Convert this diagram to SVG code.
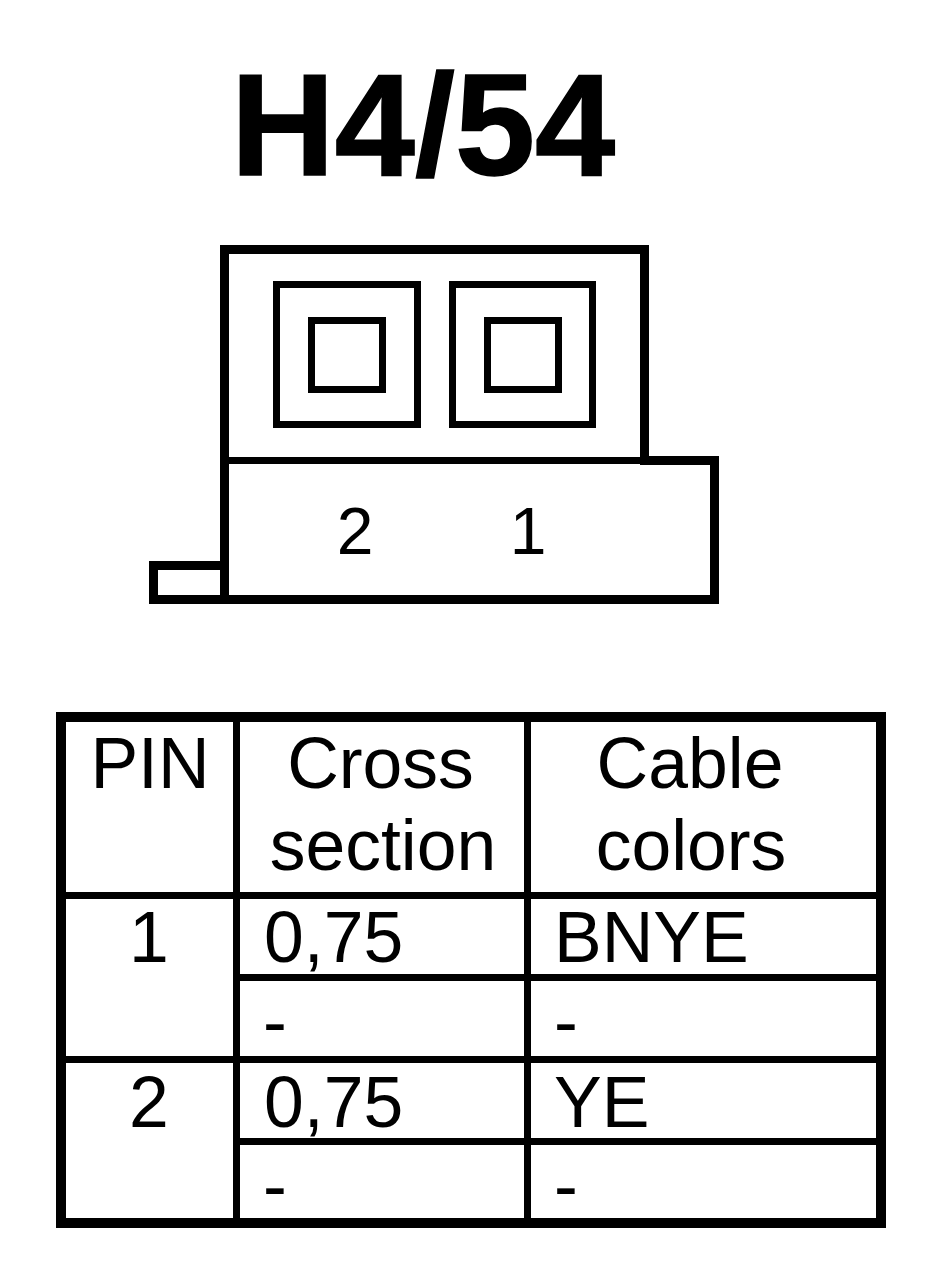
<svg xmlns="http://www.w3.org/2000/svg" width="944" height="1288" viewBox="0 0 944 1288">
<style>
.l{fill:none;stroke:#000;stroke-linejoin:miter;stroke-linecap:square;shape-rendering:crispEdges}
.o{stroke-width:9}
.d{stroke-width:7}
.m{stroke-width:7}
.t{stroke-width:10}
text{font-family:"Liberation Sans",Arial,sans-serif;fill:#000}
.n{font-size:66px;text-anchor:middle}
.c{font-size:71.5px;text-anchor:middle}
.s{font-size:71.5px}
</style>
<rect width="944" height="1288" fill="#fff"/>
<text id="title" x="423" y="175" text-anchor="middle" style="font-size:144px;font-weight:bold;stroke:#000;stroke-width:1.5px">H4/54</text>
<g id="connector-body">
<path class="l o" d="M224.500 599.500V249H644V460H714.500V599.500H153V565.500H224.500"/>
<path class="l m" d="M224 460H644"/>
</g>
<g id="pin-2">
<rect class="l d" x="276" y="284" width="141" height="140"/>
<rect class="l d" x="311" y="320" width="71" height="69"/>
<text class="n" x="355" y="554">2</text>
</g>
<g id="pin-1">
<rect class="l d" x="452" y="284" width="140" height="140"/>
<rect class="l d" x="487" y="320" width="71" height="69"/>
<text class="n" x="528" y="554">1</text>
</g>
<g id="table">
<rect class="l t" x="61" y="717" width="820" height="506"/>
<path class="l d" d="M236.500 717V1223M527 717V1223M61 895H881M61 1059H881M236 977.500H881M236 1141H881"/>
<text class="c" x="150" y="788">PIN</text>
<text class="c" x="380.500" y="788">Cross</text>
<text class="c" x="383" y="870">section</text>
<text class="c" x="690" y="788">Cable</text>
<text class="c" x="691" y="870">colors</text>
<text class="c" x="149" y="962">1</text>
<text class="s" x="264" y="962">0,75</text>
<text class="s" x="554" y="962">BNYE</text>
<text class="s" x="263" y="1046">-</text>
<text class="s" x="554" y="1046">-</text>
<text class="c" x="149" y="1127">2</text>
<text class="s" x="264" y="1127">0,75</text>
<text class="s" x="554" y="1127">YE</text>
<text class="s" x="263" y="1210">-</text>
<text class="s" x="554" y="1210">-</text>
</g>
</svg>
